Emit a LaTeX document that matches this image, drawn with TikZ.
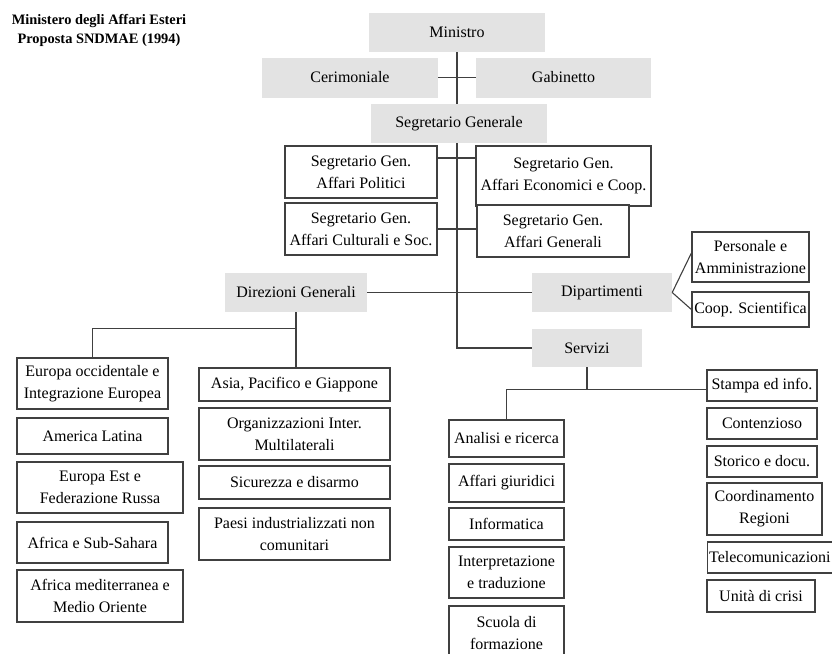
\documentclass[tikz,border=0pt]{standalone}
\usepackage{fontspec}
\setmainfont{Liberation Serif}
\definecolor{boxgray}{HTML}{E3E3E3}
\definecolor{linegray}{HTML}{404040}

\begin{document}
\begin{tikzpicture}[
    x=1pt, y=-1pt,
    font=\fontsize{16}{22}\selectfont,
    head/.style={fill=boxgray, inner sep=0pt, align=center},
    unit/.style={draw=linegray, line width=1.2pt, fill=white, inner sep=0pt, align=center},
    link/.style={draw=linegray, line width=1.1pt},
    title/.style={font=\bfseries\fontsize{14.4}{19}\selectfont, align=center},
  ]
  \useasboundingbox (0,0) rectangle (832,653);

  \node[title] (titolo) at (99,30) {Ministero degli Affari Esteri\\Proposta SNDMAE (1994)};

  % Vertice: Ministro, staff, Segretario Generale
  \node[head, minimum width=176pt, minimum height=39pt] (ministro) at (457,32.5) {Ministro};
  \node[head, minimum width=176pt, minimum height=40pt] (cerim) at (350,77.5) {Cerimoniale};
  \node[head, minimum width=175pt, minimum height=40pt] (gabin) at (563.5,77.5) {Gabinetto};
  \node[head, minimum width=176pt, minimum height=39pt] (seggen) at (459,123.5) {Segretario Generale};

  % Segretari Generali aggiunti
  \node[unit, minimum width=152pt, minimum height=52pt] (sgpol) at (361,172) {Segretario Gen.\\Affari Politici};
  \node[unit, minimum width=175pt, minimum height=60pt] (sgeco) at (563.5,176) {Segretario Gen.\\Affari Economici e Coop.};
  \node[unit, minimum width=152pt, minimum height=52pt] (sgcult) at (361,229) {Segretario Gen.\\Affari Culturali e Soc.};
  \node[unit, minimum width=152pt, minimum height=52pt] (sgaffgen) at (553,231) {Segretario Gen.\\Affari Generali};

  % Direzioni, Dipartimenti, Servizi
  \node[head, minimum width=142pt, minimum height=39pt] (dirgen) at (296,292.5) {Direzioni Generali};
  \node[head, minimum width=140pt, minimum height=39pt] (dipart) at (602,292.5) {Dipartimenti};
  \node[head, minimum width=110pt, minimum height=38pt] (servizi) at (587,348) {Servizi};

  \node[unit, minimum width=117pt, minimum height=50pt] (pers) at (750.5,257) {Personale e\\Amministrazione};
  \node[unit, minimum width=117pt, minimum height=35pt] (coop) at (750.5,309.5) {Coop. Scientifica};

  % Direzioni Generali, colonna sinistra
  \node[unit, minimum width=151pt, minimum height=51pt] (eurocc) at (92.5,383.5) {Europa occidentale e\\Integrazione Europea};
  \node[unit, minimum width=151pt, minimum height=36pt] (amlat) at (92.5,436) {America Latina};
  \node[unit, minimum width=166pt, minimum height=51pt] (euest) at (100,487.5) {Europa Est e\\Federazione Russa};
  \node[unit, minimum width=151pt, minimum height=41pt] (afsub) at (92.5,542.5) {Africa e Sub-Sahara};
  \node[unit, minimum width=166pt, minimum height=52pt] (afmed) at (100,596) {Africa mediterranea e\\Medio Oriente};

  % Direzioni Generali, colonna destra
  \node[unit, minimum width=191pt, minimum height=33pt] (asia) at (294.5,384.5) {Asia, Pacifico e Giappone};
  \node[unit, minimum width=191pt, minimum height=52pt] (orgint) at (294.5,434) {Organizzazioni Inter.\\Multilaterali};
  \node[unit, minimum width=191pt, minimum height=33pt] (sicur) at (294.5,482.5) {Sicurezza e disarmo};
  \node[unit, minimum width=191pt, minimum height=52pt] (paesi) at (294.5,534) {Paesi industrializzati non\\comunitari};

  % Servizi, colonna sinistra
  \node[unit, minimum width=115pt, minimum height=37pt] (analisi) at (506.5,438.5) {Analisi e ricerca};
  \node[unit, minimum width=115pt, minimum height=38pt] (affgiur) at (506.5,483) {Affari giuridici};
  \node[unit, minimum width=115pt, minimum height=32pt] (inform) at (506.5,524) {Informatica};
  \node[unit, minimum width=115pt, minimum height=51pt] (interp) at (506.5,572.5) {Interpretazione\\e traduzione};
  \node[unit, minimum width=115pt, minimum height=54pt] (scuola) at (506.5,633) {Scuola di\\formazione};

  % Servizi, colonna destra
  \node[unit, minimum width=110pt, minimum height=31pt] (stampa) at (762,385.5) {Stampa ed info.};
  \node[unit, minimum width=110pt, minimum height=31pt] (contenz) at (762,423.5) {Contenzioso};
  \node[unit, minimum width=110pt, minimum height=31pt] (storico) at (762,461.5) {Storico e docu.};
  \node[unit, minimum width=115pt, minimum height=52pt] (coord) at (764.5,509) {Coordinamento\\Regioni};
  \node[unit, anchor=west, inner xsep=1.5pt, minimum height=31pt] (telecom) at (707,557.5) {Telecomunicazioni};
  \node[unit, minimum width=108pt, minimum height=32pt] (unita) at (761,596) {Unità di crisi};

  % Collegamenti
  \draw[link] (ministro.south) -- (ministro.south |- seggen.north);
  \draw[link] (cerim.east) -- (gabin.west);
  \draw[link] (ministro.south |- seggen.south) |- (servizi.west);

  \coordinate (polrow) at ([yshift=14pt]sgpol.east);
  \draw[link] (polrow) -- (polrow -| sgeco.west);
  \draw[link] (sgcult.east) -- (sgcult.east -| sgaffgen.west);
  \draw[link] (dirgen.east) -- (dipart.west);

  \draw[link] (dipart.east) -- ([yshift=4pt]pers.west);
  \draw[link] (dipart.east) -- (coop.west);

  \coordinate (dgfork) at ([yshift=-16pt]dirgen.south);
  \draw[link] (dirgen.south) -- (dirgen.south |- asia.north);
  \draw[link] (dgfork) -| (eurocc.north);

  \coordinate (svfork) at ([yshift=-22pt]servizi.south);
  \draw[link] (servizi.south) -- (svfork);
  \draw[link] (svfork) -| (analisi.north);
  \draw[link] (svfork) -- (svfork -| stampa.west);
\end{tikzpicture}
\end{document}
